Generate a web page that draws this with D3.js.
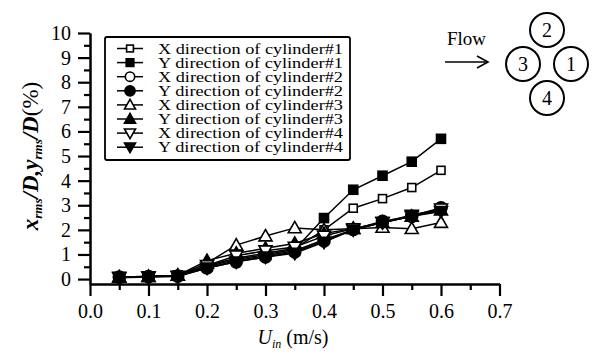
<!DOCTYPE html>
<html>
<head>
<meta charset="utf-8">
<script src="https://cdn.jsdelivr.net/npm/d3@7"></script>
<style>
  body { margin: 0; background: #fff; }
  svg { display: block; font-family: "Liberation Serif", "Times New Roman", serif; }
</style>
</head>
<body>
<svg id="chart" width="592" height="360"></svg>
<script>
// Inlet velocity (m/s)
const speeds = [0.05, 0.10, 0.15, 0.20, 0.25, 0.30, 0.35, 0.40, 0.45, 0.50, 0.55, 0.60];

// RMS displacement / D (%) per cylinder and direction
const xCyl1 = [0.08, 0.10, 0.15, 0.55, 0.85, 1.05, 1.25, 2.00, 2.88, 3.27, 3.72, 4.42];
const yCyl1 = [0.08, 0.10, 0.15, 0.50, 0.80, 1.00, 1.20, 2.48, 3.63, 4.20, 4.77, 5.70];
const xCyl2 = [0.08, 0.10, 0.12, 0.45, 0.75, 0.95, 1.15, 1.60, 2.00, 2.30, 2.55, 2.85];
const yCyl2 = [0.08, 0.10, 0.12, 0.45, 0.70, 0.90, 1.10, 1.55, 2.02, 2.35, 2.55, 2.90];
const xCyl3 = [0.08, 0.10, 0.15, 0.65, 1.38, 1.75, 2.08, 2.00, 2.05, 2.10, 2.05, 2.30];
const yCyl3 = [0.08, 0.10, 0.15, 0.75, 1.05, 1.25, 1.45, 1.85, 2.05, 2.30, 2.55, 2.80];
const xCyl4 = [0.08, 0.10, 0.12, 0.55, 0.95, 1.15, 1.30, 1.75, 2.05, 2.30, 2.60, 2.85];
const yCyl4 = [0.05, 0.08, 0.10, 0.45, 0.70, 0.90, 1.05, 1.50, 2.00, 2.30, 2.55, 2.75];

const seriesNames = [
  "X direction of cylinder#1", "Y direction of cylinder#1",
  "X direction of cylinder#2", "Y direction of cylinder#2",
  "X direction of cylinder#3", "Y direction of cylinder#3",
  "X direction of cylinder#4", "Y direction of cylinder#4"
];
const seriesValues = [xCyl1, yCyl1, xCyl2, yCyl2, xCyl3, yCyl3, xCyl4, yCyl4];
const markerShapes = ["square", "square", "circle", "circle", "triUp", "triUp", "triDown", "triDown"];
const markerFilled = [false, true, false, true, false, true, false, true];

const xTickValues = [0.0, 0.1, 0.2, 0.3, 0.4, 0.5, 0.6, 0.7];
const yTickValues = [0, 1, 2, 3, 4, 5, 6, 7, 8, 9, 10];

// Cylinder layout diagram labels
const cylinderLabels = ["1", "2", "3", "4"];

const svg = d3.select("#chart");

const x = d3.scaleLinear().domain([0, 0.7]).range([90, 499.5]);
const y = d3.scaleLinear().domain([-0.2, 10]).range([284, 33]);

// ---- axes ----
const axisG = svg.append("g");

const yMajor = d3.axisLeft(y).tickValues(yTickValues).tickSize(12).tickPadding(7)
  .tickFormat(d3.format("d")).tickSizeOuter(0);
const yMinor = d3.axisLeft(y).tickValues(d3.range(0.5, 10, 1)).tickSize(6)
  .tickFormat("").tickSizeOuter(0);
const xMajor = d3.axisBottom(x).tickValues(xTickValues).tickSize(12).tickPadding(8)
  .tickFormat(d3.format(".1f")).tickSizeOuter(0);
const xMinor = d3.axisBottom(x).tickValues(d3.range(0.05, 0.7, 0.1)).tickSize(6)
  .tickFormat("").tickSizeOuter(0);

function styleAxis(g) {
  g.select(".domain").attr("stroke", "#000").attr("stroke-width", 2);
  g.selectAll(".tick line").attr("stroke", "#000").attr("stroke-width", 2.2);
  g.selectAll(".tick text").attr("fill", "#000")
    .style("font-family", "'Liberation Serif', serif").style("font-size", "20px");
}

axisG.append("g").attr("transform", "translate(90,0)").call(yMinor).call(styleAxis);
axisG.append("g").attr("transform", "translate(90,0)").call(yMajor).call(styleAxis);
axisG.append("g").attr("transform", "translate(0,284)").call(xMinor).call(styleAxis);
axisG.append("g").attr("transform", "translate(0,284)").call(xMajor).call(styleAxis);

// ---- axis titles ----
const yTitle = svg.append("text")
  .attr("transform", "translate(38,156) rotate(-90)")
  .attr("text-anchor", "middle")
  .style("font-size", "23px");
yTitle.append("tspan").attr("font-style", "italic").attr("font-weight", "bold").text("x");
yTitle.append("tspan").attr("font-style", "italic").attr("font-weight", "bold")
  .attr("font-size", "13px").attr("dy", 4).text("rms");
yTitle.append("tspan").attr("font-style", "italic").attr("font-weight", "bold").attr("dy", -4).text("/D,y");
yTitle.append("tspan").attr("font-style", "italic").attr("font-weight", "bold")
  .attr("font-size", "13px").attr("dy", 4).text("rms");
yTitle.append("tspan").attr("font-style", "italic").attr("font-weight", "bold").attr("dy", -4).text("/D");
yTitle.append("tspan").text("(%)");

const xTitle = svg.append("text")
  .attr("x", 293).attr("y", 344)
  .attr("text-anchor", "middle")
  .style("font-size", "20px");
xTitle.append("tspan").attr("font-style", "italic").text("U");
xTitle.append("tspan").attr("font-style", "italic").attr("font-size", "12px").attr("dy", 4).text("in");
xTitle.append("tspan").attr("dy", -4).text(" (m/s)");

// ---- markers ----
function drawMarker(g, shape, filled, cx, cy, scale = 1) {
  const fill = filled ? "#000" : "#fff";
  let m;
  if (shape === "square") {
    const s = (filled ? 9 : 8) * scale;
    m = g.append("rect").attr("x", cx - s / 2).attr("y", cy - s / 2).attr("width", s).attr("height", s);
  } else if (shape === "circle") {
    m = g.append("circle").attr("cx", cx).attr("cy", cy).attr("r", (filled ? 6 : 5.5) * scale);
  } else if (shape === "triUp") {
    const s = 6.5 * scale;
    m = g.append("path").attr("d", `M${cx},${cy - s}L${cx + s},${cy + s * 0.75}L${cx - s},${cy + s * 0.75}Z`);
  } else {
    const s = 6.5 * scale;
    m = g.append("path").attr("d", `M${cx},${cy + s}L${cx + s},${cy - s * 0.75}L${cx - s},${cy - s * 0.75}Z`);
  }
  m.attr("fill", fill).attr("stroke", "#000").attr("stroke-width", 1.6);
}

// ---- series ----
const line = d3.line().x((d, i) => x(speeds[i])).y(d => y(d));
const plotG = svg.append("g");
seriesValues.forEach((vals, k) => {
  plotG.append("path").datum(vals).attr("d", line)
    .attr("fill", "none").attr("stroke", "#000").attr("stroke-width", 1.5);
});
seriesValues.forEach((vals, k) => {
  vals.forEach((v, i) => drawMarker(plotG, markerShapes[k], markerFilled[k], x(speeds[i]), y(v)));
});

// ---- legend ----
const legend = svg.append("g");
legend.append("rect").attr("x", 105).attr("y", 37).attr("width", 245).attr("height", 123)
  .attr("rx", 2).attr("fill", "#fff").attr("stroke", "#000").attr("stroke-width", 1.8);
seriesNames.forEach((name, k) => {
  const ly = 48.5 + k * 14.1;
  legend.append("line").attr("x1", 117).attr("x2", 143).attr("y1", ly).attr("y2", ly)
    .attr("stroke", "#000").attr("stroke-width", 1.5);
  drawMarker(legend, markerShapes[k], markerFilled[k], 130, ly, 0.85);
  legend.append("text").attr("x", 158).attr("y", ly + 5)
    .attr("textLength", 185).attr("lengthAdjust", "spacingAndGlyphs")
    .style("font-size", "14px").text(name);
});

// ---- cylinder arrangement diagram ----
const diag = svg.append("g");
diag.append("text").attr("x", 447).attr("y", 45).style("font-size", "19px").text("Flow");
diag.append("line").attr("x1", 445).attr("x2", 488).attr("y1", 62).attr("y2", 62)
  .attr("stroke", "#000").attr("stroke-width", 1.6);
diag.append("path").attr("d", "M477,56L488,62L477,68").attr("fill", "none")
  .attr("stroke", "#000").attr("stroke-width", 1.6);
const cylPos = [[571, 64], [547, 30], [523, 64], [547, 98]];
cylinderLabels.forEach((lab, i) => {
  const [cx, cy] = cylPos[i];
  diag.append("circle").attr("cx", cx).attr("cy", cy).attr("r", 17)
    .attr("fill", "none").attr("stroke", "#000").attr("stroke-width", 2);
  diag.append("text").attr("x", cx).attr("y", cy + 7).attr("text-anchor", "middle")
    .style("font-size", "20px").text(lab);
});
</script>
</body>
</html>
